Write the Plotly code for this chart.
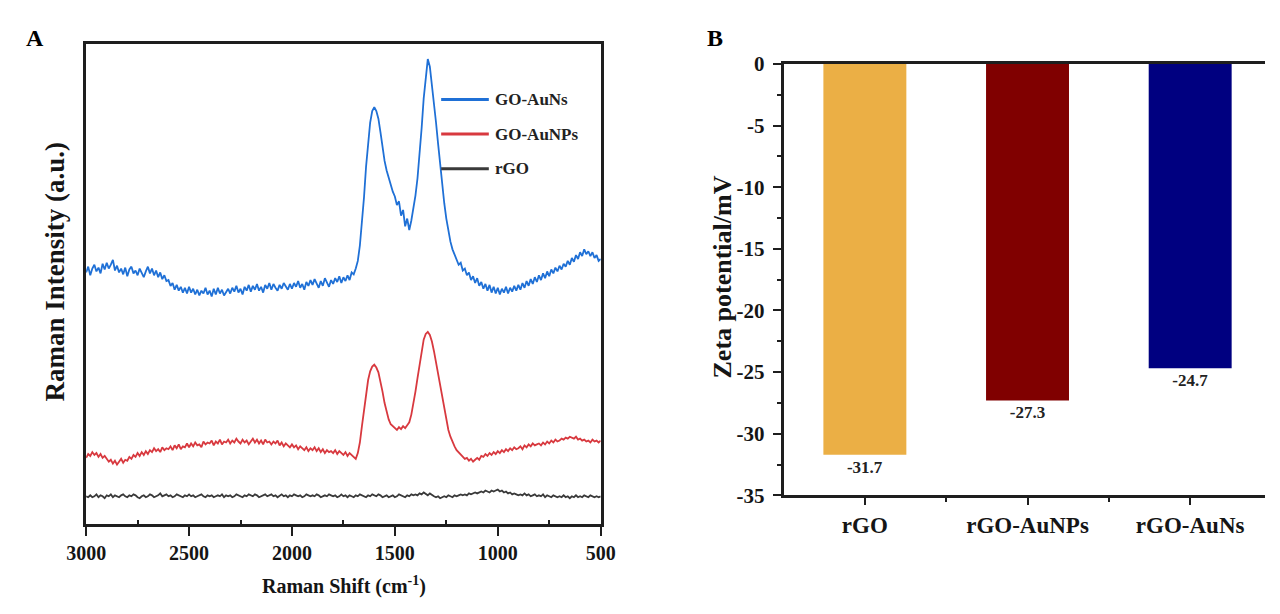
import plotly.graph_objects as go

W, H = 1280, 614

# ---------------- Panel A: Raman spectra (10 cm-1 sampling) ----------------
raman_shift = [
    3000, 2990, 2980, 2970, 2960, 2950, 2940, 2930, 2920, 2910,
    2900, 2890, 2880, 2870, 2860, 2850, 2840, 2830, 2820, 2810,
    2800, 2790, 2780, 2770, 2760, 2750, 2740, 2730, 2720, 2710,
    2700, 2690, 2680, 2670, 2660, 2650, 2640, 2630, 2620, 2610,
    2600, 2590, 2580, 2570, 2560, 2550, 2540, 2530, 2520, 2510,
    2500, 2490, 2480, 2470, 2460, 2450, 2440, 2430, 2420, 2410,
    2400, 2390, 2380, 2370, 2360, 2350, 2340, 2330, 2320, 2310,
    2300, 2290, 2280, 2270, 2260, 2250, 2240, 2230, 2220, 2210,
    2200, 2190, 2180, 2170, 2160, 2150, 2140, 2130, 2120, 2110,
    2100, 2090, 2080, 2070, 2060, 2050, 2040, 2030, 2020, 2010,
    2000, 1990, 1980, 1970, 1960, 1950, 1940, 1930, 1920, 1910,
    1900, 1890, 1880, 1870, 1860, 1850, 1840, 1830, 1820, 1810,
    1800, 1790, 1780, 1770, 1760, 1750, 1740, 1730, 1720, 1710,
    1700, 1690, 1680, 1670, 1660, 1650, 1640, 1630, 1620, 1610,
    1600, 1590, 1580, 1570, 1560, 1550, 1540, 1530, 1520, 1510,
    1500, 1490, 1480, 1470, 1460, 1450, 1440, 1430, 1420, 1410,
    1400, 1390, 1380, 1370, 1360, 1350, 1340, 1330, 1320, 1310,
    1300, 1290, 1280, 1270, 1260, 1250, 1240, 1230, 1220, 1210,
    1200, 1190, 1180, 1170, 1160, 1150, 1140, 1130, 1120, 1110,
    1100, 1090, 1080, 1070, 1060, 1050, 1040, 1030, 1020, 1010,
    1000, 990, 980, 970, 960, 950, 940, 930, 920, 910,
    900, 890, 880, 870, 860, 850, 840, 830, 820, 810,
    800, 790, 780, 770, 760, 750, 740, 730, 720, 710,
    700, 690, 680, 670, 660, 650, 640, 630, 620, 610,
    600, 590, 580, 570, 560, 550, 540, 530, 520, 510,
    500,
]

go_auns = [
    262, 268, 259, 266, 270, 263, 267, 261, 271, 265,
    272, 266, 270, 275, 264, 269, 262, 266, 260, 267,
    258, 265, 268, 261, 264, 259, 266, 262, 257, 263,
    268, 261, 266, 259, 264, 257, 262, 255, 259, 253,
    254, 248, 251, 244, 249, 243, 247, 241, 246, 240,
    247, 241, 245, 239, 244, 238, 243, 240, 246, 239,
    243, 237, 245, 239, 246, 240, 244, 238, 242, 245,
    240, 246, 242, 248, 241, 245, 239, 247, 243, 249,
    242, 248, 244, 250, 243, 247, 241, 249, 245, 251,
    244, 250, 246, 243, 249, 245, 251, 247, 244, 250,
    245, 251, 247, 253, 246, 250, 244, 252, 248, 254,
    249, 255, 250, 246, 253, 248, 256, 251, 247, 254,
    250, 256, 252, 258, 251, 257, 253, 259, 254, 262,
    260, 266, 274, 290, 312, 340, 372, 398, 418, 430,
    434, 430, 422, 408, 392, 378, 368, 360, 352, 346,
    341, 332, 336, 321, 327, 310, 318, 306, 316, 328,
    342, 360, 383, 412, 443, 468, 484, 476, 458, 440,
    418, 396, 374, 353, 334, 318, 304, 294, 286, 280,
    276, 270, 272, 264, 266, 259, 262, 254, 258, 251,
    256, 248, 252, 245, 250, 243, 249, 241, 247, 240,
    246, 239, 245, 241, 247, 240, 246, 242, 248, 243,
    249, 244, 251, 246, 253, 248, 255, 250, 257, 252,
    259, 254, 261, 256, 263, 258, 265, 261, 267, 263,
    269, 265, 271, 268, 274, 270, 277, 273, 280, 276,
    283, 279, 286, 281, 284, 279, 283, 277, 280, 274,
    276,
]

go_aunps = [
    69, 73, 71, 75, 72, 74, 70, 73, 69, 71,
    68, 65, 67, 63, 66, 62, 65, 68, 64, 67,
    66, 70, 68, 72, 70, 74, 71, 75, 72, 76,
    73, 77, 75, 79, 76, 78, 75, 80, 77, 79,
    78, 81, 77, 82, 79, 83, 78, 81, 80, 84,
    80, 84, 81, 85, 82, 83, 80, 86, 83, 85,
    84, 87, 82, 86, 84, 88, 83, 86, 85, 88,
    84, 87, 85, 89, 86, 84, 88, 85, 87, 83,
    86, 89, 85, 88, 84, 87, 83, 88, 85, 86,
    83, 86, 84, 87, 82, 85, 81, 84, 82, 80,
    83, 80, 82, 78, 81, 79, 77, 80, 76, 79,
    77, 80, 76, 79, 75, 78, 74, 77, 75, 76,
    74, 77, 73, 76, 74, 72, 75, 71, 74, 72,
    70, 68, 74, 85, 102, 120, 136, 150, 159, 164,
    166, 163, 158, 149, 138, 126, 116, 109, 104, 102,
    100, 98, 101, 99, 102, 100, 103, 106, 114, 125,
    138, 152, 167, 181, 192, 198, 200, 197, 190, 180,
    168, 156, 143, 130, 118, 107, 98, 91, 85, 81,
    77, 75, 72, 71, 68, 69, 66, 68, 65, 67,
    69, 67, 71, 70, 73, 71, 74, 72, 75, 73,
    76, 74, 77, 75, 78, 76, 79, 77, 80, 78,
    79, 81, 78, 82, 80, 83, 81, 84, 82, 83,
    84, 82, 85, 83, 86, 84, 87, 85, 88, 86,
    87, 89, 88, 90, 89, 91, 90, 89, 91, 88,
    89, 87, 88, 86, 87, 85, 88, 86, 87, 85,
    87,
]

rgo = [
    29, 28, 30, 28, 29, 31, 28, 30, 29, 27,
    30, 29, 31, 28, 30, 29, 28, 30, 31, 29,
    28, 30, 29, 31, 30, 28, 27, 29, 30, 28,
    29, 31, 30, 28, 29, 30, 32, 29, 30, 31,
    29, 30, 28, 29, 31, 30, 29, 28, 30, 29,
    31, 29, 30, 28, 29, 30, 31, 29, 28, 30,
    29, 30, 28, 29, 30, 29, 31, 28, 30, 29,
    30, 28, 29, 31, 30, 29, 28, 30, 29, 31,
    30, 29, 31, 30, 28, 29, 30, 31, 29, 30,
    31, 29, 30, 28, 30, 31, 29, 30, 28, 30,
    29, 31, 30, 29, 30, 28, 29, 31, 30, 29,
    30, 29, 31, 30, 28, 29, 30, 29, 31, 30,
    29, 30, 28, 29, 31, 29, 30, 28, 30, 29,
    28, 30, 29, 31, 30, 29, 28, 30, 29, 31,
    30, 29, 31, 30, 28, 29, 30, 28, 29, 30,
    28, 29, 31, 30, 29, 28, 30, 29, 31, 30,
    31, 30, 32, 31, 33, 31, 30, 32, 30, 29,
    28, 29, 27, 28, 29, 28, 30, 29, 28, 30,
    29, 30, 31, 30, 31, 30, 32, 31, 32, 33,
    32, 33, 34, 33, 35, 34, 33, 35, 34, 35,
    36, 34, 35, 33, 34, 32, 33, 31, 32, 31,
    30, 31, 30, 32, 30, 31, 29, 30, 31, 29,
    30, 29, 31, 28, 30, 29, 28, 30, 29, 28,
    29, 28, 30, 28, 29, 27, 29, 28, 30, 28,
    29, 28, 30, 29, 28, 30, 29, 28, 29, 28,
    29,
]

shift_ticks = [3000, 2500, 2000, 1500, 1000, 500]

spectra = [
    ("GO-AuNs", go_auns, "#1f70d6"),
    ("GO-AuNPs", go_aunps, "#d8393f"),
    ("rGO", rgo, "#3a3a3a"),
]

# ---------------- Panel B: zeta potential ----------------
samples = ["rGO", "rGO-AuNPs", "rGO-AuNs"]
zeta_mv = [-31.7, -27.3, -24.7]
bar_colors = ["#ebaf45", "#800000", "#000080"]
zeta_ticks = [0, -5, -10, -15, -20, -25, -30, -35]

FONT = "Liberation Serif"
AXIS_CLR = "#1e1e1e"
TXT = "#151515"


def px(x):
    return x / W


def py(y):
    return 1 - y / H


def bold(size, color=TXT):
    return dict(family=FONT, size=size, color=color, weight="bold")


fig = go.Figure()

for name, vals, clr in spectra:
    fig.add_trace(go.Scatter(
        x=raman_shift, y=vals, mode="lines", name=name,
        line=dict(color=clr, width=1.8),
        xaxis="x", yaxis="y", showlegend=False,
    ))

fig.add_trace(go.Bar(
    x=list(range(len(samples))), y=zeta_mv,
    marker=dict(color=bar_colors, line=dict(width=0)),
    width=0.51,
    text=[f"{v:.1f}" for v in zeta_mv], textposition="outside",
    textfont=bold(17, "#222"),
    cliponaxis=False,
    xaxis="x2", yaxis="y2", showlegend=False,
))

fig.update_layout(
    width=W, height=H,
    margin=dict(l=0, r=0, t=0, b=0),
    paper_bgcolor="white", plot_bgcolor="white",
    font=dict(family=FONT, color=TXT),
    xaxis=dict(
        domain=[px(68), px(597)], anchor="y",
        range=[3000, 500], tickvals=shift_ticks,
        ticktext=[str(t) for t in shift_ticks],
        ticks="outside", ticklen=9, tickwidth=2, tickcolor=AXIS_CLR,
        minor=dict(tickvals=[2750, 2250, 1750, 1250, 750], ticks="inside",
                   ticklen=4, tickwidth=2, tickcolor=AXIS_CLR),
        showline=True, linewidth=2.5, linecolor=AXIS_CLR, mirror=True,
        showgrid=False, zeroline=False,
        tickfont=bold(20),
    ),
    yaxis=dict(
        domain=[py(533), py(33)], anchor="x",
        range=[0, 500], showticklabels=False, ticks="",
        showline=True, linewidth=2.5, linecolor=AXIS_CLR, mirror=True,
        showgrid=False, zeroline=False,
    ),
    xaxis2=dict(
        domain=[px(785), 1.0], anchor="y2",
        range=[-0.5, 2.46], tickvals=list(range(len(samples))), ticktext=samples,
        ticks="outside", ticklen=7, tickwidth=2, tickcolor=AXIS_CLR,
        minor=dict(tickvals=[0.5, 1.5], ticks="outside", ticklen=4,
                   tickwidth=2, tickcolor=AXIS_CLR),
        showline=True, linewidth=2.5, linecolor=AXIS_CLR, mirror=True,
        showgrid=False, zeroline=False,
        tickfont=bold(23),
    ),
    yaxis2=dict(
        domain=[py(503), py(54)], anchor="x2",
        range=[-35, 0], tickvals=zeta_ticks,
        ticktext=[str(t) for t in zeta_ticks],
        ticks="outside", ticklen=8, tickwidth=2, tickcolor=AXIS_CLR,
        minor=dict(dtick=2.5, ticks="outside", ticklen=4, tickwidth=2,
                   tickcolor=AXIS_CLR),
        showline=True, linewidth=2.5, linecolor=AXIS_CLR, mirror=False,
        showgrid=False, zeroline=False,
        tickfont=bold(21), ticklabelstandoff=4,
    ),
)

ann = [
    dict(x=px(36), y=py(270), text="Raman Intensity (a.u.)", textangle=-90,
         font=bold(27)),
    dict(x=px(333), y=py(597), text="Raman Shift (cm<sup>-1</sup>)",
         font=bold(20)),
    dict(x=px(722), y=py(276), text="Zeta potential/mV", textangle=-90,
         font=bold(26)),
    dict(x=px(15), y=py(27), text="A", font=bold(24, "#000")),
    dict(x=px(715), y=py(27), text="B", font=bold(24, "#000")),
]
for a in ann:
    a.update(showarrow=False, xref="paper", yref="paper",
             xanchor="center", yanchor="middle")

# Legend for panel A
shapes = []
for i, (name, _, clr) in enumerate(spectra):
    yy = 91 + 36 * i
    shapes.append(dict(type="line", xref="paper", yref="paper",
                       x0=px(433), x1=px(482), y0=py(yy), y1=py(yy),
                       line=dict(color=clr, width=3)))
    ann.append(dict(x=px(486), y=py(yy), text=name, font=bold(17, "#222"),
                    showarrow=False, xref="paper", yref="paper",
                    xanchor="left", yanchor="middle"))

fig.update_layout(annotations=ann, shapes=shapes)

fig.write_html("out.html")
